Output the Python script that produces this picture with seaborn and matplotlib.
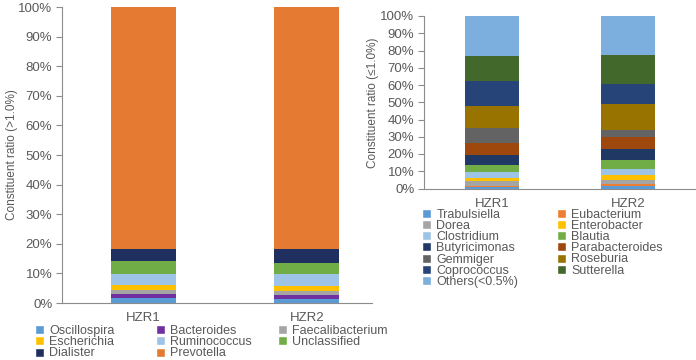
import matplotlib
matplotlib.use("Agg")
import matplotlib.pyplot as plt
import seaborn as sns
import numpy as np
from matplotlib.patches import Patch
from matplotlib.ticker import PercentFormatter

sns.set_theme(style="white")
plt.rcParams['font.family'] = ['Liberation Sans', 'DejaVu Sans']

samples = ["HZR1", "HZR2"]

# Left chart (>1.0%)
left_taxa = ["Oscillospira", "Bacteroides", "Faecalibacterium", "Escherichia",
             "Ruminococcus", "Unclassified", "Dialister", "Prevotella"]
left_hzr1 = [1.7, 1.5, 1.3, 1.5, 3.9, 4.3, 3.9, 81.9]
left_hzr2 = [1.2, 1.5, 1.5, 1.6, 3.9, 3.8, 4.6, 81.9]
left_colors = ["#5b9bd5", "#7030a0", "#a5a5a5", "#ffc000",
               "#9dc3e6", "#70ad47", "#1f2f60", "#e57a33"]

# Right chart (<=1.0%)
right_taxa = ["Trabulsiella", "Eubacterium", "Dorea", "Enterobacter", "Clostridium",
              "Blautia", "Butyricimonas", "Parabacteroides", "Gemmiger", "Roseburia",
              "Coprococcus", "Sutterella", "Others(<0.5%)"]
right_hzr1 = [0.6, 0.7, 2.8, 2.1, 3.1, 4.2, 5.7, 7.3, 8.7, 12.7, 14.5, 14.4, 23.2]
right_hzr2 = [1.5, 1.2, 2.1, 3.1, 3.5, 5.2, 6.2, 7.0, 4.2, 14.9, 11.8, 16.8, 22.6]
right_colors = ["#5b9bd5", "#ed7d31", "#a5a5a5", "#ffc000", "#9dc3e6",
                "#70ad47", "#203864", "#9e480e", "#636363", "#997300",
                "#264478", "#43682b", "#7cafdd"]

TXT = "#595959"

fig = plt.figure(figsize=(6.96, 3.6), dpi=100)
W, H = 696, 360

def add_ax(x0, y0, x1, y1):
    return fig.add_axes([x0 / W, 1 - y1 / H, (x1 - x0) / W, (y1 - y0) / H])

def stacked(ax, taxa, v1, v2, colors, xmax):
    c1 = np.cumsum(v1)
    c2 = np.cumsum(v2)
    for i in range(len(taxa) - 1, -1, -1):
        sns.barplot(x=samples, y=[c1[i], c2[i]], color=colors[i], width=0.4,
                    saturation=1, ax=ax, linewidth=0)
    ax.set_xlim(-0.5, xmax)
    ax.set_ylim(0, 100)
    ax.set_yticks(np.arange(0, 101, 10))
    ax.yaxis.set_major_formatter(PercentFormatter(decimals=0))
    for s in ["top", "right"]:
        ax.spines[s].set_visible(False)
    for s in ["left", "bottom"]:
        ax.spines[s].set_color("#8c8c8c")
        ax.spines[s].set_linewidth(0.8)
    ax.tick_params(axis="y", left=True, length=4, width=0.8, color="#8c8c8c",
                   labelsize=9.5, labelcolor=TXT, pad=3)
    ax.tick_params(axis="x", bottom=False, labelsize=9.5, labelcolor=TXT, pad=0.5)
    ax.set_xlabel("")

def column_legends(handles, ncol, xs, ytop, spacing):
    for j in range(ncol):
        col = handles[j::ncol]
        fig.legend(handles=col, loc="upper left",
                   bbox_to_anchor=(xs[j] / W, 1 - ytop / H),
                   ncol=1, frameon=False, fontsize=9, labelcolor=TXT,
                   handlelength=0.75, handleheight=0.75, handletextpad=0.4,
                   labelspacing=spacing, borderaxespad=0, borderpad=0)

# Left chart
axL = add_ax(62, 7, 372, 303)
stacked(axL, left_taxa, left_hzr1, left_hzr2, left_colors, 1.4)
axL.set_ylabel("Constituent ratio (>1.0%)", color=TXT, fontsize=8.5, labelpad=0)

hL = [Patch(facecolor=c, label=t) for t, c in zip(left_taxa, left_colors)]
column_legends(hL, 3, [35, 156, 278], 325, -0.06)

# Right chart
axR = add_ax(424, 16, 696, 188.5)
stacked(axR, right_taxa, right_hzr1, right_hzr2, right_colors, 1.5)
axR.set_ylabel("Constituent ratio (≤1.0%)", color=TXT, fontsize=8.5, labelpad=1)

hR = [Patch(facecolor=c, label=t) for t, c in zip(right_taxa, right_colors)]
column_legends(hR, 2, [422, 557], 208.5, -0.06)

fig.savefig("out.png", dpi=100)
